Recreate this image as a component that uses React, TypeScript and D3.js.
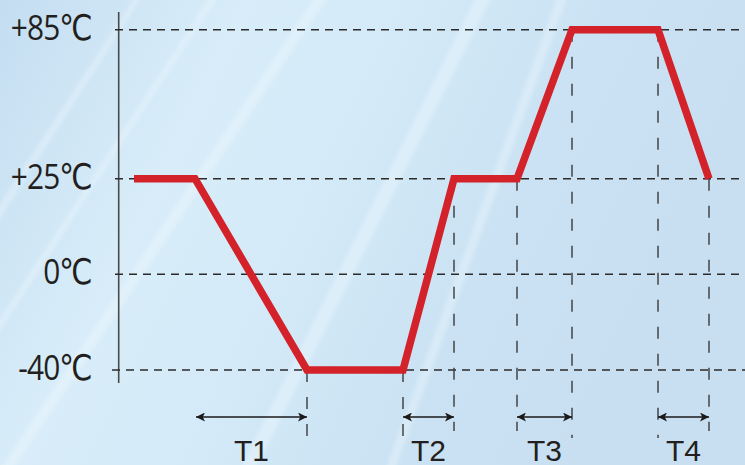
import React from "react";
import * as d3 from "d3";

const W = 745;
const H = 465;

// temperature levels (tick labels)
const levels = [85, 25, 0, -40];
const levelLabels = ["+85℃", "+25℃", "0℃", "-40℃"];

// profile: time (arbitrary units) and temperature
const profileTime = [1.6, 7.7, 18.9, 28.5, 33.6, 39.9, 45.4, 54.0, 59.1];
const profileTemp = [25, 25, -40, -40, 25, 25, 85, 85, 25];

// vertical guide lines: from a profile point downward
const guideTime = [18.9, 28.5, 33.6, 39.9, 45.4, 54.0, 59.1];
const guideTemp = [-40, -40, 25, 25, 85, 85, 25];
const guideLong = [true, true, false, false, true, true, false];

// intervals
const intervalNames = ["T1", "T2", "T3", "T4"];
const intervalStart = [7.8, 28.5, 39.9, 54.0];
const intervalEnd = [18.9, 33.6, 45.4, 59.1];

export default function App() {
  const x = d3.scaleLinear().domain([0, 60]).range([118, 718]);
  const y = d3
    .scaleLinear()
    .domain([-40, 0, 25, 85])
    .range([370, 274.3, 178.7, 29.7]);

  const line = d3
    .line<number>()
    .x((_, i) => x(profileTime[i]))
    .y((d) => y(d))
    .curve(d3.curveLinear);

  const axisX = x(0) + 0.7;
  const arrowY = 417;
  const dark = "#2b2b2b";

  const streaks = [
    [[-30, 250], [140, -10], [146, -10], [-24, 256]],
    [[-20, 350], [215, -10], [222, -10], [-13, 350]],
    [[0, 470], [320, -10], [332, -10], [12, 470]],
    [[385, 470], [560, -10], [570, -10], [395, 470]],
    [[240, 470], [480, -10], [495, -10], [255, 470]],
  ];

  return (
    <svg
      width={W}
      height={H}
      style={{ position: "absolute", left: 0, top: 0, display: "block" }}
    >
      <defs>
        <linearGradient id="bg" x1="0" y1="0" x2="1" y2="0.3">
          <stop offset="0" stopColor="#c4ddf1" />
          <stop offset="0.3" stopColor="#d8edf9" />
          <stop offset="0.5" stopColor="#d4eaf8" />
          <stop offset="0.75" stopColor="#cae2f3" />
          <stop offset="1" stopColor="#c8dff1" />
        </linearGradient>
        <filter id="blur" x="-0.2" y="-0.2" width="1.4" height="1.4">
          <feGaussianBlur stdDeviation="2" />
        </filter>
        <marker
          id="ah"
          viewBox="0 0 10 10"
          refX="10"
          refY="5"
          markerWidth="9"
          markerHeight="9"
          markerUnits="userSpaceOnUse"
          orient="auto-start-reverse"
        >
          <path d="M0,0 L10,5 L0,10 L2.5,5 Z" fill="#1a1a1a" />
        </marker>
      </defs>
      <rect x={0} y={0} width={W} height={H} fill="url(#bg)" />
      <g filter="url(#blur)" opacity={0.35}>
        {streaks.map((s, i) => (
          <polygon
            key={i}
            points={s.map((p) => p.join(",")).join(" ")}
            fill="#f4fbff"
          />
        ))}
      </g>

      {/* y axis line */}
      <line
        x1={axisX}
        x2={axisX}
        y1={12}
        y2={383}
        stroke="#4a4a4a"
        strokeWidth={1.6}
      />

      {/* horizontal guides */}
      {levels.map((lv) => (
        <line
          key={lv}
          x1={lv === -40 ? 112 : 115}
          x2={W}
          y1={y(lv)}
          y2={y(lv)}
          stroke={dark}
          strokeWidth={1.4}
          strokeDasharray="8 6"
        />
      ))}

      {/* vertical guides */}
      {guideTime.map((t, i) => (
        <line
          key={i}
          x1={x(t)}
          x2={x(t)}
          y1={y(guideTemp[i])}
          y2={guideLong[i] ? (guideTemp[i] === 85 ? 438 : 436) : 431}
          stroke="#3a3a3a"
          strokeWidth={1.4}
          strokeDasharray="12 15"
        />
      ))}

      {/* level labels */}
      {levels.map((lv, i) => (
        <g key={lv} transform={`translate(92, ${y(lv) + 10}) scale(0.84, 1)`}>
          <text
            x={0}
            y={0}
            textAnchor="end"
            fontFamily="'Open Sans', 'DejaVu Sans', sans-serif"
            fontSize={35.5}
            fill="#231f20"
            letterSpacing={-1}
          >
            {levelLabels[i]}
          </text>
        </g>
      ))}

      {/* profile line */}
      <path
        d={line(profileTemp) || ""}
        fill="none"
        stroke="#d3222a"
        strokeWidth={7.5}
        strokeLinejoin="miter"
      />

      {/* interval arrows */}
      {intervalNames.map((n, i) => {
        const x1 = x(intervalStart[i]);
        const x2 = x(intervalEnd[i]);
        return (
          <g key={n}>
            <line
              x1={x1}
              x2={x2}
              y1={arrowY}
              y2={arrowY}
              stroke="#1a1a1a"
              strokeWidth={1.3}
              markerStart="url(#ah)"
              markerEnd="url(#ah)"
            />
            <text
              x={(x1 + x2) / 2}
              y={461}
              textAnchor="middle"
              fontFamily="'Liberation Sans', Arial, sans-serif"
              fontSize={30}
              fill="#231f20"
            >
              {n}
            </text>
          </g>
        );
      })}
    </svg>
  );
}
